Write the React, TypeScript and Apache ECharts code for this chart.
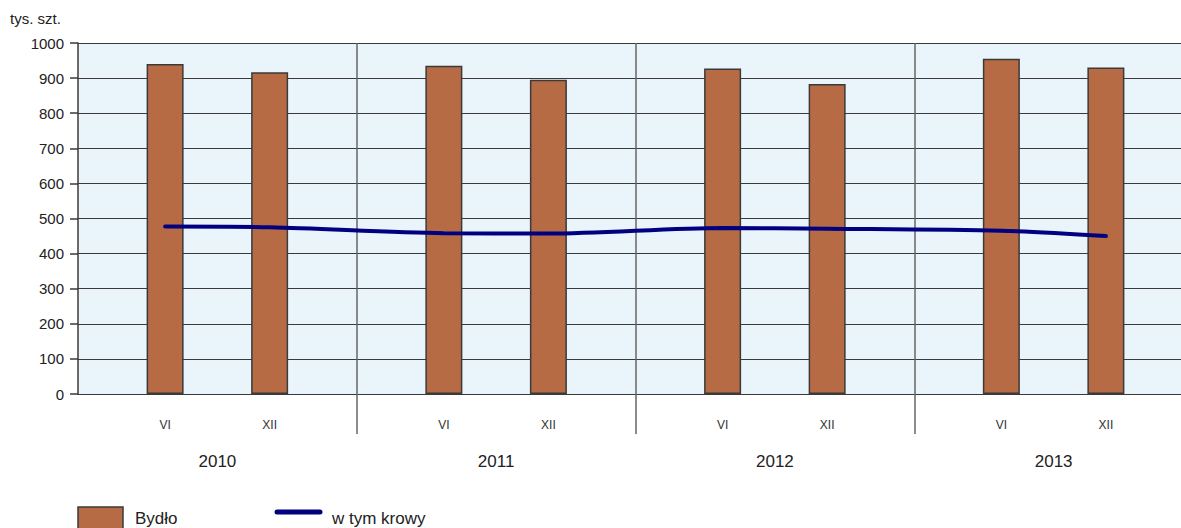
import React, { useEffect, useRef } from "react";
import * as echarts from "echarts";

const years = ["2010", "2011", "2012", "2013"];
const months = ["VI", "XII"];
const bydlo = [940, 917, 935, 895, 927, 883, 955, 930];
const krowy = [477, 475, 458, 457, 473, 471, 465, 450];
const yTickLabels = ["0", "100", "200", "300", "400", "500", "600", "700", "800", "900", "1000"];
const unitLabel = "tys. szt.";
const seriesNames = ["Bydło", "w tym krowy"];

// position of each month inside its year band (layout only)
const monthOffsets = [0.3125, 0.6875];

const BAR_COLOR = "#B76B45";
const LINE_COLOR = "#000080";
const FONT = "'Liberation Sans', Arial, Helvetica, sans-serif";

export default function App() {
  const ref = useRef<HTMLDivElement>(null);

  useEffect(() => {
    if (!ref.current) return;
    const chart = echarts.init(ref.current, null, { renderer: "svg" });
    const xs = years.flatMap((_, yi) => monthOffsets.map((o) => yi + o));
    const yearCenters = years.map((_, yi) => yi + 0.5);

    chart.setOption({
      animation: false,
      textStyle: { fontFamily: FONT },
      grid: {
        left: 78,
        right: 7,
        top: 43,
        bottom: 134,
        show: true,
        backgroundColor: "#EAF4FB",
        borderWidth: 0,
      },
      xAxis: [
        {
          type: "value",
          position: "bottom",
          min: 0,
          max: 4,
          interval: 1,
          axisLine: { show: true, onZero: false, lineStyle: { color: "#3a3a3a", width: 1 } },
          splitLine: { show: true, lineStyle: { color: "#666666", width: 1.5 } },
          axisTick: {
            show: true,
            customValues: [1, 2, 3],
            length: 40,
            inside: false,
            lineStyle: { color: "#666666", width: 1.5 },
          },
          axisLabel: {
            customValues: xs,
            fontSize: 12,
            color: "#333",
            margin: 25,
            formatter: (v: number) => months[v - Math.floor(v) < 0.5 ? 0 : 1],
          },
        },
        {
          type: "value",
          position: "bottom",
          min: 0,
          max: 4,
          axisLine: { show: false },
          splitLine: { show: false },
          axisTick: { show: false },
          axisLabel: {
            customValues: yearCenters,
            fontSize: 17,
            color: "#222",
            margin: 59,
            formatter: (v: number) => years[Math.floor(v)],
          },
        },
      ],
      yAxis: {
        type: "value",
        min: 0,
        max: 1000,
        interval: 100,
        axisLine: { show: true, lineStyle: { color: "#3a3a3a", width: 1.5 } },
        axisTick: { show: true, length: 8, lineStyle: { color: "#3a3a3a", width: 1.5 } },
        splitLine: { show: true, lineStyle: { color: "#3a3a3a", width: 1.2 } },
        axisLabel: {
          fontSize: 15,
          color: "#222",
          margin: 14,
          formatter: (v: number) => yTickLabels[Math.round(v / 100)],
        },
      },
      series: [
        {
          name: seriesNames[0],
          type: "bar",
          xAxisIndex: 0,
          barWidth: 37,
          data: xs.map((x, i) => [x, bydlo[i]]),
          itemStyle: { color: BAR_COLOR, borderColor: "#3a3a3a", borderWidth: 1.5 },
          z: 2,
        },
        {
          name: seriesNames[1],
          type: "line",
          xAxisIndex: 0,
          data: xs.map((x, i) => [x, krowy[i]]),
          showSymbol: false,
          smooth: 0.3,
          lineStyle: { color: LINE_COLOR, width: 4, cap: "round" },
          z: 3,
        },
      ],
      graphic: [
        {
          type: "text",
          left: 10,
          top: 11,
          style: { text: unitLabel, fontSize: 15, fill: "#222", fontFamily: FONT },
        },
        {
          type: "rect",
          shape: { x: 78, y: 507, width: 45, height: 30 },
          style: { fill: BAR_COLOR, stroke: "#3a3a3a", lineWidth: 1.5 },
        },
        {
          type: "text",
          x: 135,
          y: 518,
          style: {
            text: seriesNames[0],
            fontSize: 17,
            fill: "#222",
            fontFamily: FONT,
            verticalAlign: "middle",
          },
        },
        {
          type: "line",
          shape: { x1: 277, y1: 512, x2: 320, y2: 512 },
          style: { stroke: LINE_COLOR, lineWidth: 5, lineCap: "round" },
        },
        {
          type: "text",
          x: 332,
          y: 518,
          style: {
            text: seriesNames[1],
            fontSize: 17,
            fill: "#222",
            fontFamily: FONT,
            verticalAlign: "middle",
          },
        },
      ],
    });

    return () => chart.dispose();
  }, []);

  return (
    <div
      style={{
        position: "fixed",
        left: 0,
        top: 0,
        width: 1181,
        height: 528,
        overflow: "hidden",
        background: "#fff",
      }}
    >
      <div ref={ref} style={{ width: 1200, height: 528 }} />
    </div>
  );
}
